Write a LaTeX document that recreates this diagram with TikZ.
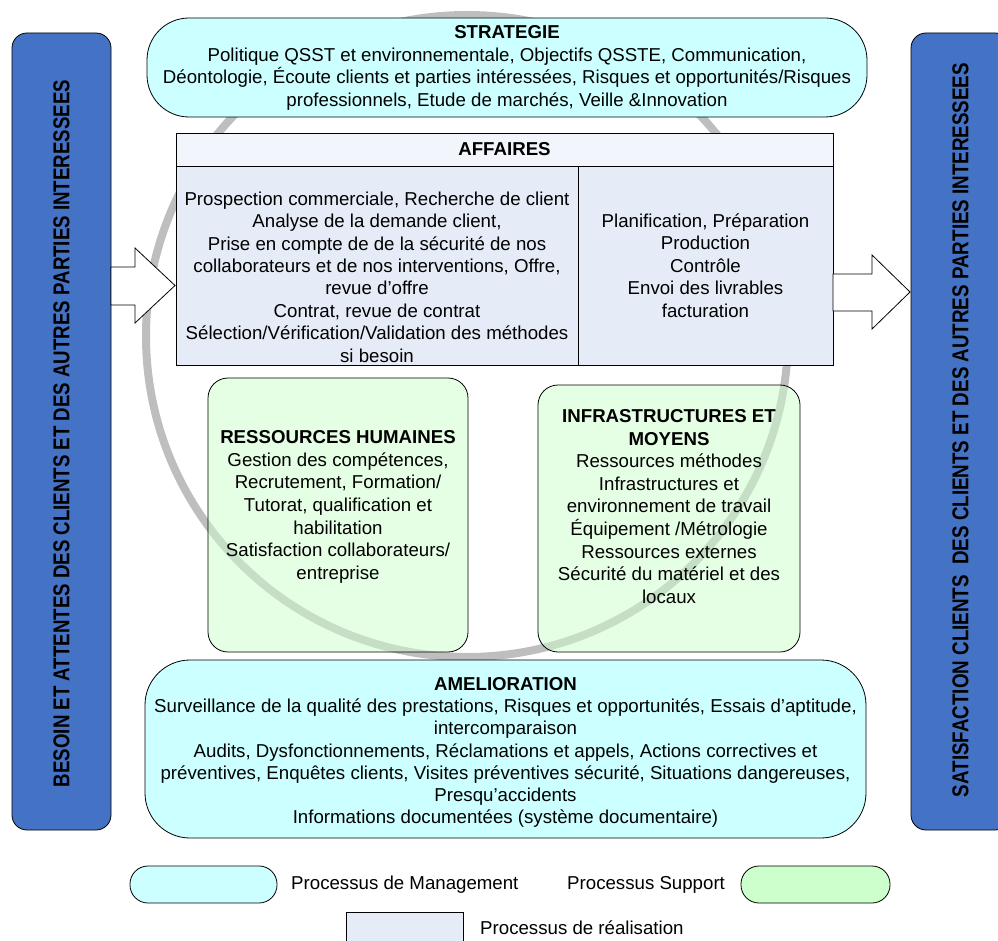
\documentclass[tikz,border=0pt]{standalone}
\usepackage{fontspec}
\usepackage{graphicx}
\setmainfont{Liberation Sans}
\definecolor{mgmtfill}{RGB}{204,255,255}
\definecolor{supfill}{RGB}{204,255,204}
\definecolor{realfill}{RGB}{230,236,247}
\definecolor{realhead}{RGB}{242,245,251}
\definecolor{barfill}{RGB}{68,114,196}
\definecolor{ringgray}{RGB}{190,190,190}
\newcommand\bodyfont{\fontsize{18.67}{22.6}\selectfont}
\begin{document}
\begin{tikzpicture}[x=1pt,y=-1pt,
  shapebox/.style={inner sep=0pt, outer sep=0pt, line width=0.8pt, draw=black},
  sidebar/.style={shapebox, fill=barfill, rounded corners=15pt, minimum width=99pt, minimum height=797pt},
  mgmt/.style={shapebox, fill=mgmtfill},
  support/.style={shapebox, fill=supfill, fill opacity=0.5, rounded corners=20pt},
  real/.style={shapebox, fill=realfill},
  txt/.style={inner sep=0pt, align=center, font=\bodyfont, text=black},
  legtxt/.style={inner sep=0pt, anchor=west, font=\bodyfont},
  blockarrow/.style={draw=black, fill=white, line width=0.8pt, line join=miter}
]
\useasboundingbox (0,0) rectangle (998,941);
\clip (0,0) rectangle (998,941);

% background ring
\draw[ringgray, line width=8pt] (467,336) circle (321);

% side bars
\node[sidebar] (leftbar) at (61.5,431.5) {};
\node[sidebar] (rightbar) at (960.5,431.5) {};
\node[rotate=90, inner sep=0pt] (lefttxt) at (61.5,433.5)
  {\resizebox{707pt}{16pt}{\bfseries BESOIN ET ATTENTES DES CLIENTS ET DES AUTRES PARTIES INTERESSEES}};
\node[rotate=90, inner sep=0pt] (righttxt) at (960.5,430)
  {\resizebox{734pt}{16pt}{\bfseries SATISFACTION CLIENTS\ \ DES CLIENTS ET DES AUTRES PARTIES INTERESSEES}};

% management: strategy
\node[mgmt, rounded corners=42pt, minimum width=720pt, minimum height=99pt] (strat) at (507,67.5) {};
\node[txt] (strattxt) at (507,68) {\textbf{STRATEGIE}\\
Politique QSST et environnementale, Objectifs QSSTE, Communication,\\
Déontologie, Écoute clients et parties intéressées, Risques et opportunités/Risques\\
professionnels, Etude de marchés, Veille \&Innovation};

% realisation: affaires
\node[real, fill=realhead, minimum width=657pt, minimum height=33pt] (affhead) at (504.5,149.5) {};
\node[real, minimum width=402pt, minimum height=199pt] (affleft) at (377,265.5) {};
\node[real, minimum width=255pt, minimum height=199pt] (affright) at (705.5,265.5) {};
\node[txt] (affheadtxt) at (504.5,149.5) {\textbf{AFFAIRES}};
\node[txt, font=\fontsize{18.67}{22.4}\selectfont] (afflefttxt) at (377,277) {Prospection commerciale, Recherche de client\\
Analyse de la demande client,\\
Prise en compte de de la sécurité de nos\\
collaborateurs et de nos interventions, Offre,\\
revue d’offre\\
Contrat, revue de contrat\\
Sélection/Vérification/Validation des méthodes\\
si besoin};
\node[txt, font=\fontsize{18.67}{22.5}\selectfont] (affrighttxt) at (705.5,265.5) {Planification, Préparation\\
Production\\
Contrôle\\
Envoi des livrables\\
facturation};

% in / out arrows
\filldraw[blockarrow] (111,267) -- (135,267) -- (135,248) -- (175,285.5) -- (135,323) -- (135,305) -- (111,305) -- cycle;
\filldraw[blockarrow] (833,274) -- (872,274) -- (872,255) -- (910,292) -- (872,329) -- (872,311) -- (833,311) -- cycle;

% support processes
\node[support, minimum width=260pt, minimum height=274pt] (rh) at (338,515) {};
\node[support, minimum width=262pt, minimum height=267pt] (infra) at (669,518.5) {};
\node[txt, font=\fontsize{18.67}{22.7}\selectfont] (rhtxt) at (338,507) {\textbf{RESSOURCES HUMAINES}\\
Gestion des compétences,\\
Recrutement, Formation/\\
Tutorat, qualification et\\
habilitation\\
Satisfaction collaborateurs/\\
entreprise};
\node[txt, font=\fontsize{18.67}{22.6}\selectfont] (infratxt) at (669,506.5) {\textbf{INFRASTRUCTURES ET}\\
\textbf{MOYENS}\\
Ressources méthodes\\
Infrastructures et\\
environnement de travail\\
Équipement /Métrologie\\
Ressources externes\\
Sécurité du matériel et des\\
locaux};

% management: amelioration
\node[mgmt, rounded corners=45pt, minimum width=721pt, minimum height=178pt] (amel) at (505.5,749) {};
\node[txt, font=\fontsize{18.67}{22.2}\selectfont] (ameltxt) at (505.5,752.5) {\textbf{AMELIORATION}\\
Surveillance de la qualité des prestations, Risques et opportunités, Essais d’aptitude,\\
intercomparaison\\
Audits, Dysfonctionnements, Réclamations et appels, Actions correctives et\\
préventives, Enquêtes clients, Visites préventives sécurité, Situations dangereuses,\\
Presqu’accidents\\
Informations documentées (système documentaire)};

% legend
\node[mgmt, rounded corners=18pt, minimum width=147pt, minimum height=37pt] (legmgmt) at (203.5,884.5) {};
\node[legtxt] (legmgmttxt) at (291,884.5) {Processus de Management};
\node[legtxt] (legsuptxt) at (567,884.5) {Processus Support};
\node[shapebox, fill=supfill, rounded corners=18pt, minimum width=149pt, minimum height=37pt] (legsup) at (815.5,884.5) {};
\node[real, minimum width=117pt, minimum height=34pt] (legreal) at (404.5,929) {};
\node[legtxt] (legrealtxt) at (480,928) {Processus de réalisation};
\end{tikzpicture}
\end{document}
